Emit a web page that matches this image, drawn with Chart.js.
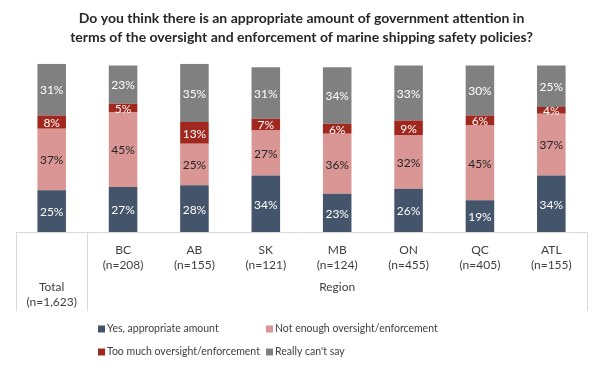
<!DOCTYPE html>
<html>
<head>
<meta charset="utf-8">
<script src="https://cdn.jsdelivr.net/npm/chart.js@4"></script>
<style>
  html, body { margin: 0; padding: 0; background: #fff; }
  #wrap { width: 602px; height: 371px; }
</style>
</head>
<body>
<div id="wrap"><canvas id="chart" width="602" height="371"></canvas></div>
<script>
// Categories and sample sizes
const categories = ['Total', 'BC', 'AB', 'SK', 'MB', 'ON', 'QC', 'ATL'];
const sampleSizes = ['(n=1,623)', '(n=208)', '(n=155)', '(n=121)', '(n=124)', '(n=455)', '(n=405)', '(n=155)'];
const groupLabel = 'Region';

// Series values (%)
const yesAppropriate = [25, 27, 28, 34, 23, 26, 19, 34];
const notEnough = [37, 45, 25, 27, 36, 32, 45, 37];
const tooMuch = [8, 5, 13, 7, 6, 9, 6, 4];
const cantSay = [31, 23, 35, 31, 34, 33, 30, 25];

const seriesNames = ['Yes, appropriate amount', 'Not enough oversight/enforcement', 'Too much oversight/enforcement', "Really can't say"];

const FONT = 'Lato, "Open Sans", sans-serif';
const colors = ['#44546A', '#DA9694', '#A0281E', '#808080'];
const labelColors = ['#ffffff', '#262626', '#ffffff', '#ffffff'];
const lineColor = '#D9D9D9';

// percentage labels in the middle of each segment
const segmentLabels = {
  id: 'segmentLabels',
  afterDatasetsDraw(chart) {
    const ctx = chart.ctx;
    ctx.save();
    ctx.font = '12px ' + FONT;
    ctx.textAlign = 'center';
    ctx.textBaseline = 'middle';
    chart.data.datasets.forEach((ds, di) => {
      const meta = chart.getDatasetMeta(di);
      meta.data.forEach((bar, i) => {
        const p = bar.getProps(['x', 'y', 'base'], true);
        ctx.fillStyle = labelColors[di];
        ctx.fillText(ds.data[i] + '%', p.x, (p.y + p.base) / 2 + 1);
      });
    });
    ctx.restore();
  }
};

// table-like category axis and legend
const axisTable = {
  id: 'axisTable',
  afterDraw(chart) {
    const ctx = chart.ctx;
    const xs = chart.scales.x;
    const bottom = chart.chartArea.bottom;
    const tableBottom = 311;
    const divider = (xs.getPixelForValue(0) + xs.getPixelForValue(1)) / 2;

    ctx.save();
    ctx.strokeStyle = lineColor;
    ctx.lineWidth = 1;
    ctx.beginPath();
    ctx.moveTo(xs.left, bottom + 0.5);
    ctx.lineTo(xs.right, bottom + 0.5);
    [xs.left, divider, xs.right].forEach(x => {
      const px = Math.round(x) + 0.5;
      ctx.moveTo(px, bottom);
      ctx.lineTo(px, tableBottom);
    });
    ctx.stroke();

    ctx.fillStyle = '#404040';
    ctx.font = '12px ' + FONT;
    ctx.textAlign = 'center';
    ctx.textBaseline = 'middle';
    categories.forEach((c, i) => {
      const x = xs.getPixelForValue(i);
      if (i === 0) {
        ctx.fillText(c, x, bottom + 55);
        ctx.fillText(sampleSizes[i], x, bottom + 70);
      } else {
        ctx.fillText(c, x, bottom + 18);
        ctx.fillText(sampleSizes[i], x, bottom + 33);
      }
    });
    ctx.fillText(groupLabel, (divider + xs.right) / 2, bottom + 55);

    // legend, two columns
    const colX = [98, 266];
    const rowY = [329, 352];
    ctx.font = '10.5px ' + FONT;
    ctx.textAlign = 'left';
    chart.data.datasets.forEach((ds, di) => {
      const x = colX[di % 2];
      const y = rowY[Math.floor(di / 2)];
      ctx.fillStyle = ds.backgroundColor;
      ctx.fillRect(x, y - 3.5, 7, 7);
      ctx.fillStyle = '#404040';
      ctx.fillText(ds.label, x + 9, y);
    });
    ctx.restore();
  }
};

const allSeries = [yesAppropriate, notEnough, tooMuch, cantSay];

new Chart(document.getElementById('chart'), {
  type: 'bar',
  data: {
    labels: categories,
    datasets: allSeries.map((values, i) => ({
      label: seriesNames[i],
      data: values,
      backgroundColor: colors[i],
      borderWidth: 0,
      barPercentage: 0.4,
      categoryPercentage: 1
    }))
  },
  options: {
    responsive: false,
    animation: false,
    devicePixelRatio: 1,
    layout: { padding: { left: 16, right: 15, bottom: 139, top: 0 } },
    scales: {
      x: { stacked: true, display: false },
      y: { stacked: true, display: false, min: 0, max: 101 }
    },
    plugins: {
      legend: { display: false },
      tooltip: { enabled: false },
      title: {
        display: true,
        text: ['Do you think there is an appropriate amount of government attention in',
               'terms of the oversight and enforcement of marine shipping safety policies?'],
        color: '#262626',
        font: { family: FONT, size: 14, weight: 'bold', lineHeight: 1.35 },
        padding: { top: 9, bottom: 17 }
      }
    }
  },
  plugins: [segmentLabels, axisTable]
});
</script>
</body>
</html>
